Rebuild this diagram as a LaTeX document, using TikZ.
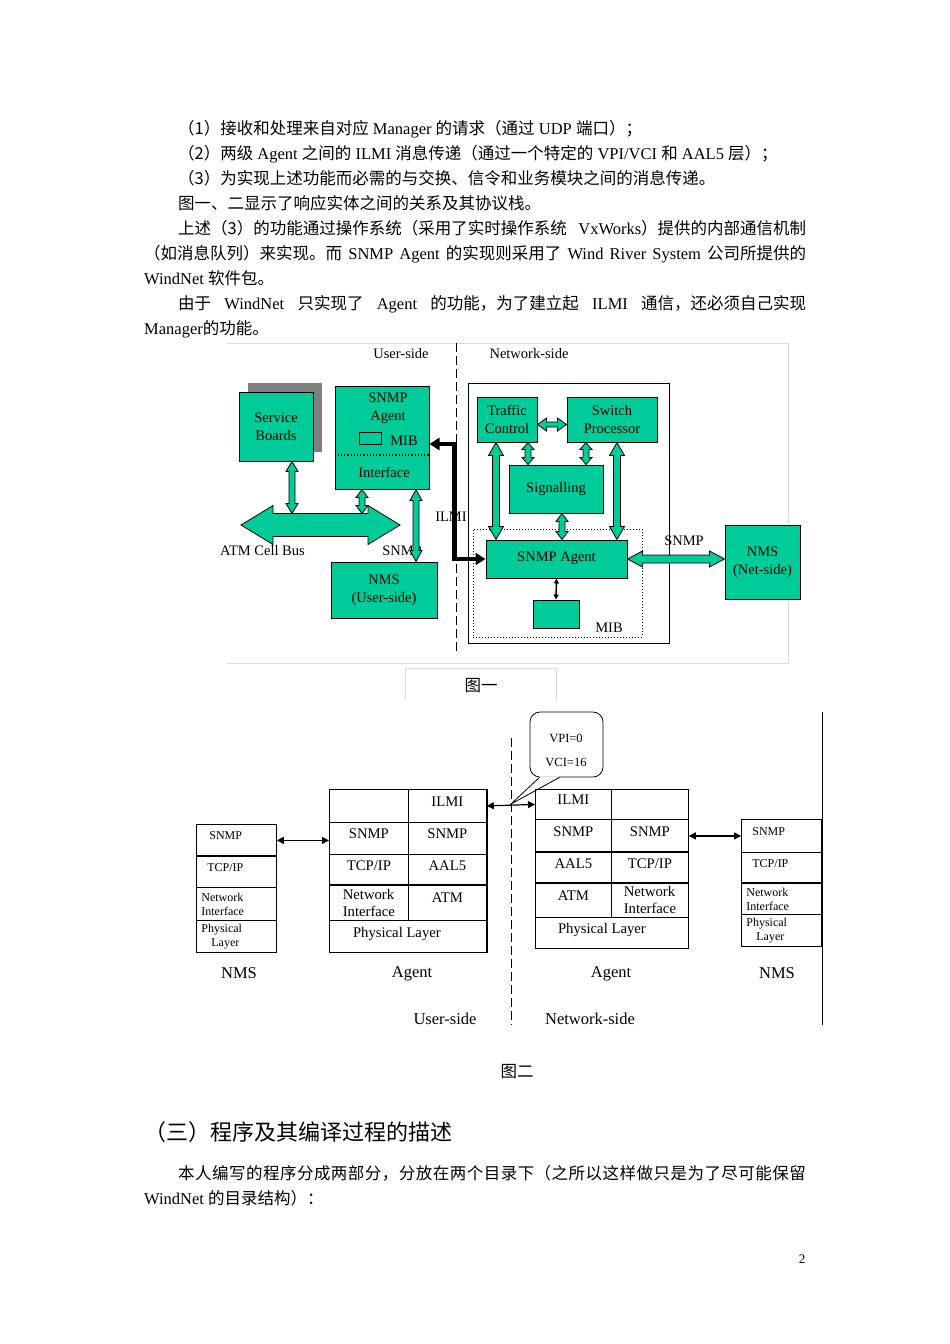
\documentclass[tikz,border=0pt]{standalone}
\usepackage{fontspec}
\setmainfont{Liberation Serif}
\newfontfamily\cjk{Noto Sans CJK SC}
\newfontfamily\cjkwide[LetterSpace=2.9]{Noto Sans CJK SC}
\usetikzlibrary{arrows.meta,calc,shadows}
\definecolor{cellgreen}{RGB}{0,204,153}
\XeTeXlinebreaklocale "zh"
\XeTeXlinebreakskip=0pt plus 2pt

\begin{document}
\begin{tikzpicture}[
        x=1pt, y=-1pt,
        every node/.style={font=\fontsize{14.5}{18}\selectfont},
        box/.style={draw, line width=1pt, fill=cellgreen, inner sep=0pt, align=center},
        fatarrow/.style={draw=black, line width=0.8pt, fill=cellgreen, line join=miter},
        fat/.style n args={3}{to path={let \p1=(\tikztostart), \p2=(\tikztotarget),
            \p3=($(\p1)!#3!(\p2)$), \p4=($(\p2)!#3!(\p1)$) in
            -- ($(\p3)!#1!90:(\p2)$) -- ($(\p3)!#2!90:(\p2)$)
            -- ($(\p4)!#2!-90:(\p1)$) -- ($(\p4)!#1!-90:(\p1)$) -- (\p2)
            -- ($(\p4)!#1!90:(\p1)$) -- ($(\p4)!#2!90:(\p1)$)
            -- ($(\p3)!#2!-90:(\p2)$) -- ($(\p3)!#1!-90:(\p2)$) -- cycle}},
        ilmi/.style={line width=4.5pt, line join=miter, {Triangle[length=10pt,width=12pt]}-{Triangle[length=10pt,width=12pt]}},
        ar/.style={line width=1.2pt, {Triangle[length=7pt,width=7pt]}-{Triangle[length=7pt,width=7pt]}},
        txt/.style={anchor=base west, inner sep=0pt, font=\fontsize{16.5}{25}\selectfont},
        lbl/.style={inner sep=0pt, font=\fontsize{16.5}{20}\selectfont},
        acell/.style={draw, line width=0.8pt, anchor=north west, inner sep=0pt, align=center, font=\fontsize{14.7}{17}\selectfont},
        ncell/.style={draw, line width=0.8pt, anchor=north west, inner xsep=5pt, inner ysep=0pt, text width=70pt, align=left, font=\fontsize{12}{14}\selectfont},
        up/.style={text depth=9pt},
        heavy/.style={line width=2pt},
    ]
    \fill[white] (0,0) rectangle (950,1344);
    \useasboundingbox (0,0) rectangle (950,1344);

    % text above the figures
    \node[txt] (l1) at (178,134) {{\cjk （1）接收和处理来自对应} Manager {\cjk 的请求（通过} UDP {\cjk 端口）；}};
    \node[txt] (l2) at (178,159) {{\cjk （2）两级} Agent {\cjk 之间的} ILMI {\cjk 消息传递（通过一个特定的} VPI/VCI {\cjk 和} AAL5 {\cjk 层）；}};
    \node[txt] (l3) at (178,184) {{\cjk （3）为实现上述功能而必需的与交换、信令和业务模块之间的消息传递。}};
    \node[txt] (l4) at (178,209) {{\cjk 图一、二显示了响应实体之间的关系及其协议栈。}};
    \node[txt] (l5) at (178,234) {\hbox to 628pt{{\cjk 上述（3）的功能通过操作系统（采用了实时操作系统} VxWorks{\cjk ）提供的内部通信机制}}};
    \node[txt] (l6) at (144,259) {\hbox to 662pt{{\cjk （如消息队列）来实现。而} SNMP Agent {\cjk 的实现则采用了} Wind River System {\cjk 公司所提供的}}};
    \node[txt] (l7) at (144,284) {WindNet {\cjk 软件包。}};
    \node[txt] (l8) at (178,309) {\hbox to 628pt{{\cjk 由于} WindNet {\cjk 只实现了} Agent {\cjk 的功能，为了建立起} ILMI {\cjk 通信，还必须自己实现}}};
    \node[txt] (l9) at (144,334) {Manager{\cjk 的功能。}};

    % figure 1
    \draw[gray!30, line width=1pt] (227,343) -- (788,343) -- (788,663) -- (227,663);
    \draw[gray!30, line width=1pt] (405,700) |- (556,668) -- (556,700);
    \node[lbl] (cap1) at (481,686) {\cjk 图一};
    \draw[dashed, dash pattern=on 9pt off 4pt, line width=1pt] (456,343) -- (456,655);
    \node (us1) at (401,354) {User-side};
    \node (ns1) at (529,354) {Network-side};

    \node[box, minimum width=74pt, minimum height=69pt,
        copy shadow={shadow xshift=9pt, shadow yshift=9pt, fill=gray, draw=none}] (sb) at (276,426.5) {Service\\Boards};
    \node[box, minimum width=94pt, minimum height=103pt] (uagent) at (382,437.5) {};
    \node[align=center] (uatxt) at (388,408) {SNMP\\Agent};
    \node[draw, line width=0.8pt, minimum width=22pt, minimum height=12pt, inner sep=0pt] (umib) at (370,438) {};
    \node (umibtxt) at (404,441) {MIB};
    \draw[dotted, line width=1.2pt] (uagent.west |- 0,455) -- (uagent.east |- 0,455);
    \node (uitf) at (384,472) {Interface};

    \coordinate (busL) at (241,525);
    \coordinate (busR) at (400,525);
    \coordinate (busTop) at (320,513.5);
    \draw[fatarrow] (busL) to[fat={19.5pt}{11.5pt}{32pt}] (busR);
    \node (buslbl) at (262.5,551) {ATM Cell Bus};
    \node (snmpu) at (402,551) {SNMP};
    \node[box, minimum width=106pt, minimum height=56pt] (unms) at (384,590) {NMS\\(User-side)};

    \coordinate (sbout) at ([xshift=16pt]sb.south);
    \coordinate (uaout1) at ([xshift=-20pt]uagent.south);
    \coordinate (uaout2) at ([xshift=34pt]uagent.south);
    \path[fatarrow]
    (sbout) to[fat={6pt}{3pt}{10pt}] (sbout |- busTop)
    (uaout1) to[fat={6pt}{3pt}{8pt}] (uaout1 |- busTop)
    (uaout2) to[fat={6pt}{3pt}{11pt}] (uaout2 |- unms.north)
    ;

    \node[draw, line width=1pt, minimum width=201pt, minimum height=260pt] (netbox) at (568.5,513) {};
    \node[draw, dotted, line width=1pt, minimum width=169pt, minimum height=108pt] (mibzone) at (557.5,583) {};
    \node[box, minimum width=60pt, minimum height=45pt] (tc) at (507,419.5) {Traffic\\Control};
    \node[box, minimum width=90pt, minimum height=45pt] (sp) at (612,419.5) {Switch\\Processor};
    \node[box, minimum width=94pt, minimum height=48pt] (sig) at (556,489) {Signalling};
    \node[box, minimum width=141pt, minimum height=38pt, text depth=4pt] (nagent) at (556.5,559) {SNMP Agent};
    \node[box, minimum width=46pt, minimum height=28pt] (nmib) at (556,614) {};
    \node (nmibtxt) at (609,628) {MIB};
    \node[box, minimum width=75pt, minimum height=74pt] (nnms) at (762.5,562) {NMS\\(Net-side)};
    \node (snmpn) at (684,541) {SNMP};

    \coordinate (tcout1) at ([xshift=-11pt]tc.south);
    \coordinate (tcout2) at ([xshift=21pt]tc.south);
    \coordinate (spout1) at ([xshift=-26pt]sp.south);
    \coordinate (spout2) at ([xshift=5pt]sp.south);
    \coordinate (sigout) at ([xshift=6pt]sig.south);
    \path[fatarrow]
    ([yshift=-5pt]tc.east) to[fat={6.5pt}{2.5pt}{9pt}] ([yshift=-5pt]sp.west)
    (tcout1) to[fat={7.5pt}{3.5pt}{13pt}] (tcout1 |- nagent.north)
    (tcout2) to[fat={6pt}{3pt}{7pt}] (tcout2 |- sig.north)
    (spout1) to[fat={6pt}{3pt}{7pt}] (spout1 |- sig.north)
    (spout2) to[fat={7.5pt}{3.5pt}{13pt}] (spout2 |- nagent.north)
    (sigout) to[fat={6pt}{3pt}{8pt}] (sigout |- nagent.north)
    (nagent.east) to[fat={8pt}{4pt}{15pt}] (nagent.east -| nnms.west)
    ;
    \draw[line width=1.5pt, {Triangle[length=5pt,width=5pt]}-{Triangle[length=5pt,width=5pt]}] (nagent.south) -- (nmib.north);

    \node (ilmilbl) at (451,517) {ILMI};
    \draw[ilmi] (nagent.west) -- ++(-31,0) |- ([yshift=-6.5pt]uagent.east);

    % figure 2
    \draw[dashed, dash pattern=on 9pt off 4pt, line width=1pt] (511,738) -- (511,1025);
    \draw[line width=1pt] (822,712) -- (822,1025);

    \node[draw, line width=0.8pt, rounded corners=10pt, minimum width=73pt, minimum height=65pt] (vci) at (566.5,744.5) {};
    \node[align=center, font=\fontsize{12.5}{24}\selectfont] (vcitxt) at (566,750) {VPI=0\\VCI=16};
    \coordinate (vcitip) at (511,804);
    \fill[white] ([xshift=-27pt,yshift=1pt]vci.south) -- (vcitip) -- ([xshift=-7pt,yshift=1pt]vci.south) -- cycle;
    \draw[line width=0.8pt] ([xshift=-27pt]vci.south) -- (vcitip) -- ([xshift=-7pt]vci.south);

    \node[ncell, up, minimum height=32pt] (ln1) at (196,824) {\hspace*{8pt}SNMP};
    \node[ncell, up, minimum height=31pt] (ln2) at (196,856) {\hspace*{6pt}TCP/IP};
    \node[ncell, minimum height=33pt] (ln3) at (196,887) {Network\\Interface};
    \node[ncell, minimum height=32pt] (ln4) at (196,920) {Physical\\\hspace*{10pt}Layer};
    \draw[heavy] (ln2.north west) -- (ln2.north east);

    \node[acell, minimum width=79pt, minimum height=33pt] (la11) at (329,789) {};
    \node[acell, up, minimum width=78pt, minimum height=33pt] (la12) at (408,789) {ILMI};
    \node[acell, up, minimum width=79pt, minimum height=32pt] (la21) at (329,822) {SNMP};
    \node[acell, up, minimum width=78pt, minimum height=32pt] (la22) at (408,822) {SNMP};
    \node[acell, up, minimum width=79pt, minimum height=31pt] (la31) at (329,854) {TCP/IP};
    \node[acell, up, minimum width=78pt, minimum height=31pt] (la32) at (408,854) {AAL5};
    \node[acell, minimum width=79pt, minimum height=35pt, align=left] (la41) at (329,885) {Network\\Interface};
    \node[acell, minimum width=78pt, minimum height=35pt] (la42) at (408,885) {\raisebox{10pt}{ATM}};
    \node[acell, up, minimum width=157pt, minimum height=32pt] (la5) at (329,920) {Physical Layer\hspace*{22pt}};
    \draw[heavy] (la12.north east) -- (la5.south east);
    \draw[heavy] (la41.north west) -- (la42.north east);

    \node[acell, up, minimum width=76pt, minimum height=30pt] (ra11) at (535,789) {ILMI};
    \node[acell, minimum width=77pt, minimum height=30pt] (ra12) at (611,789) {};
    \node[acell, up, minimum width=76pt, minimum height=33pt] (ra21) at (535,819) {SNMP};
    \node[acell, up, minimum width=77pt, minimum height=33pt] (ra22) at (611,819) {SNMP};
    \node[acell, up, minimum width=76pt, minimum height=31pt] (ra31) at (535,852) {AAL5};
    \node[acell, up, minimum width=77pt, minimum height=31pt] (ra32) at (611,852) {TCP/IP};
    \node[acell, minimum width=76pt, minimum height=34pt] (ra41) at (535,883) {\raisebox{10pt}{ATM}};
    \node[acell, minimum width=77pt, minimum height=34pt, align=left] (ra42) at (611,883) {Network\\Interface};
    \node[acell, up, minimum width=153pt, minimum height=31pt] (ra5) at (535,917) {Physical Layer\hspace*{20pt}};
    \draw[heavy] (ra31.north west) -- (ra32.north east);
    \draw[heavy] (ra41.north west) -- (ra42.north east);

    \node[ncell, up, minimum height=33pt] (rn1) at (741,819) {\hspace*{6pt}SNMP};
    \node[ncell, up, minimum height=31pt] (rn2) at (741,852) {\hspace*{6pt}TCP/IP};
    \node[ncell, minimum height=31pt] (rn3) at (741,883) {Network\\Interface};
    \node[ncell, minimum height=32pt] (rn4) at (741,914) {Physical\\\hspace*{10pt}Layer};
    \draw[heavy] (rn3.north west) -- (rn3.north east);

    \draw[ar] (ln1.east) -- (ln1.east -| la21.west);
    \draw[ar] (la12.east) -- (ra11.west);
    \draw[ar] (ra22.east) -- (ra22.east -| rn1.west);

    \node[lbl] (nmsl) at (239,973) {NMS};
    \node[lbl] (agl) at (412,974) {Agent};
    \node[lbl] (agr) at (611,974) {Agent};
    \node[lbl] (nmsr) at (777,973) {NMS};
    \node[lbl] (usr2) at (445,1019) {User-side};
    \node[lbl] (net2) at (590,1019) {Network-side};
    \node[lbl] (cap2) at (517,1072) {\cjk 图二};

    % section below
    \node[txt, font=\fontsize{22}{26}\selectfont] (h3) at (144,1140) {{\cjk （三）程序及其编译过程的描述}};
    \node[txt] (p1) at (178,1179) {{\cjkwide 本人编写的程序分成两部分，分放在两个目录下（之所以这样做只是为了尽可能保留}};
    \node[txt] (p2) at (144,1204) {WindNet {\cjk 的目录结构）：}};
    \node[font=\fontsize{13}{15}\selectfont] (pnum) at (802,1259) {2};
\end{tikzpicture}
\end{document}
